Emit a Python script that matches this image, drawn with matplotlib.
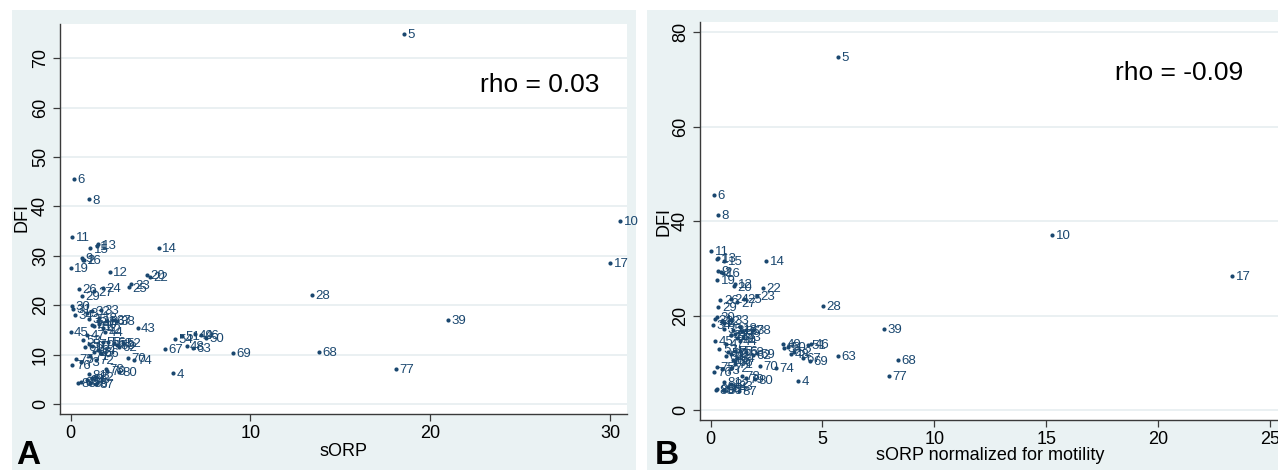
import matplotlib
matplotlib.use("Agg")
import matplotlib.pyplot as plt
from matplotlib.patches import Rectangle

# ------------------------------------------------------------------
# Data (one row per sample id)
# ------------------------------------------------------------------
point_ids = list(range(1, 89))

dfi = [32.0, 29.2, 18.5, 6.2, 74.8, 45.5, 16.0, 41.4, 29.5, 37.1,
       33.8, 26.8, 32.3, 31.6, 31.5, 29.1, 28.5, 17.5, 27.5, 26.2,
       16.9, 25.8, 24.2, 23.5, 23.6, 23.3, 22.8, 22.1, 21.9, 19.8,
       19.2, 18.8, 19.1, 18.0, 17.2, 16.8, 17.0, 16.9, 17.1, 16.2,
       15.8, 15.3, 15.4, 14.6, 14.6, 14.0, 14.0, 11.8, 14.1, 13.4,
       13.8, 12.3, 13.0, 13.2, 12.6, 12.5, 12.2, 12.4, 12.0, 11.8,
       11.5, 11.6, 11.4, 11.0, 10.6, 10.3, 11.1, 10.6, 10.4, 9.4,
       9.8, 9.0, 8.6, 9.0, 9.1, 8.0, 7.2, 7.2, 6.7, 6.5,
       6.0, 5.5, 5.2, 4.8, 4.5, 4.2, 4.1, 4.3]

sorp = [1.45, 0.75, 0.90, 5.70, 18.55, 0.20, 1.20, 1.00, 0.65, 30.55,
        0.10, 2.17, 1.55, 4.90, 1.10, 0.70, 30.00, 1.60, 0.00, 4.24,
        1.50, 4.40, 3.38, 1.78, 3.26, 0.46, 1.32, 13.40, 0.64, 0.10,
        0.12, 1.20, 1.70, 0.25, 1.00, 2.00, 2.35, 2.60, 21.00, 1.60,
        1.30, 1.80, 3.72, 1.90, 0.00, 7.25, 0.90, 6.45, 6.90, 7.50,
        6.20, 2.90, 0.70, 5.80, 1.80, 2.10, 1.00, 2.40, 2.60, 1.20,
        0.80, 2.70, 6.80, 1.50, 1.30, 1.70, 5.25, 13.80, 9.00, 3.17,
        1.10, 1.40, 0.60, 3.50, 0.30, 0.10, 18.10, 1.96, 2.05, 2.70,
        1.00, 1.40, 1.20, 0.90, 0.60, 1.10, 1.40, 0.40]

sorp_norm = [0.30, 0.45, 0.60, 3.90, 5.70, 0.16, 0.90, 0.33, 0.35, 15.26,
             0.04, 1.08, 0.35, 2.48, 0.62, 0.55, 23.30, 1.30, 0.30, 1.04,
             1.00, 2.35, 2.08, 0.90, 1.50, 0.44, 1.20, 5.01, 0.35, 0.30,
             0.20, 0.50, 0.90, 0.10, 0.60, 1.40, 1.60, 1.90, 7.77, 1.10,
             0.90, 1.20, 1.44, 1.30, 0.20, 4.50, 0.70, 3.60, 3.26, 3.45,
             4.36, 3.72, 0.40, 3.30, 1.10, 1.30, 0.80, 1.60, 2.08, 0.90,
             0.70, 1.90, 5.69, 1.20, 1.00, 1.10, 4.12, 8.37, 4.45, 2.20,
             1.10, 0.90, 0.50, 2.92, 0.30, 0.15, 7.97, 1.40, 1.60, 1.99,
             0.60, 0.90, 1.10, 0.80, 0.30, 0.60, 1.26, 0.25]

rho_a = "rho = 0.03"
rho_b = "rho = -0.09"

# ------------------------------------------------------------------
# Styling (Stata s2color look)
# ------------------------------------------------------------------
navy = "#1a476f"
panel_bg = "#eaf2f3"
grid_col = "#e6eef0"
axis_col = "#3a3a3a"
plt.rcParams["font.family"] = ["Liberation Sans", "DejaVu Sans"]

W, H = 1278, 470
fig = plt.figure(figsize=(W / 100, H / 100), dpi=100)


def px_rect(x0, y0, x1, y1):
    # pixel box (top-left origin) -> figure fraction [left, bottom, width, height]
    return [x0 / W, 1 - y1 / H, (x1 - x0) / W, (y1 - y0) / H]


# gray panel backgrounds, kept behind the axes
for x0, x1 in [(12, 636), (647, 1278)]:
    l, b, w, h = px_rect(x0, 10, x1, 470)
    fig.patches.append(Rectangle((l, b), w, h, transform=fig.transFigure,
                                 facecolor=panel_bg, edgecolor="none", zorder=-10))


def draw_panel(rect, xs, xlim, ylim, xticks, yticks):
    ax = fig.add_axes(rect)
    ax.set_zorder(2)
    ax.set_facecolor("white")
    ax.scatter(xs, dfi, s=9, color=navy, zorder=3, linewidths=0)
    for pid, x, y in zip(point_ids, xs, dfi):
        ax.annotate(str(pid), (x, y), xytext=(2.5, -0.8), textcoords="offset points",
                    ha="left", va="center", fontsize=9.5, color=navy, zorder=4)
    ax.set_xlim(*xlim)
    ax.set_ylim(*ylim)
    ax.set_xticks(xticks)
    ax.set_yticks(yticks)
    ax.grid(axis="y", color=grid_col, lw=1.2, zorder=0)
    ax.set_axisbelow(True)
    for s in ["top", "right"]:
        ax.spines[s].set_visible(False)
    for s in ["left", "bottom"]:
        ax.spines[s].set_color(axis_col)
        ax.spines[s].set_linewidth(1.0)
    ax.tick_params(axis="both", direction="out", length=5, width=0.9,
                   color=axis_col, labelsize=13, pad=3)
    for lab in ax.get_yticklabels():
        lab.set_rotation(90)
        lab.set_va("center")
    return ax


# Panel A: DFI vs sORP
ax_a = draw_panel(px_rect(60, 24, 627, 414), sorp,
                  (-0.59, 30.93), (-2.0, 76.9), [0, 10, 20, 30], range(0, 71, 10))
fig.text(540 / W, 1 - 85 / H, rho_a, fontsize=19, ha="center", va="center", zorder=5)

# Panel B: DFI vs sORP normalized for motility
ax_b = draw_panel(px_rect(700, 22, 1278, 420), sorp_norm,
                  (-0.47, 25.35), (-2.1, 82.2), [0, 5, 10, 15, 20, 25], range(0, 81, 20))
fig.text(1179 / W, 1 - 73 / H, rho_b, fontsize=19, ha="center", va="center", zorder=5)

# axis titles and panel letters
fig.text(344 / W, 1 - 451 / H, "sORP", ha="center", va="center", fontsize=13)
fig.text(990 / W, 1 - 456 / H, "sORP normalized for motility", ha="center",
         va="center", fontsize=13)
fig.text(22 / W, 1 - 218 / H, "DFI", ha="center", va="center", fontsize=13, rotation=90)
fig.text(664 / W, 1 - 222 / H, "DFI", ha="center", va="center", fontsize=13, rotation=90)
fig.text(16 / W, 1 - 455 / H, "A", ha="left", va="center", fontsize=24, fontweight="bold")
fig.text(655 / W, 1 - 455 / H, "B", ha="left", va="center", fontsize=24, fontweight="bold")

fig.savefig("out.png", dpi=100)
